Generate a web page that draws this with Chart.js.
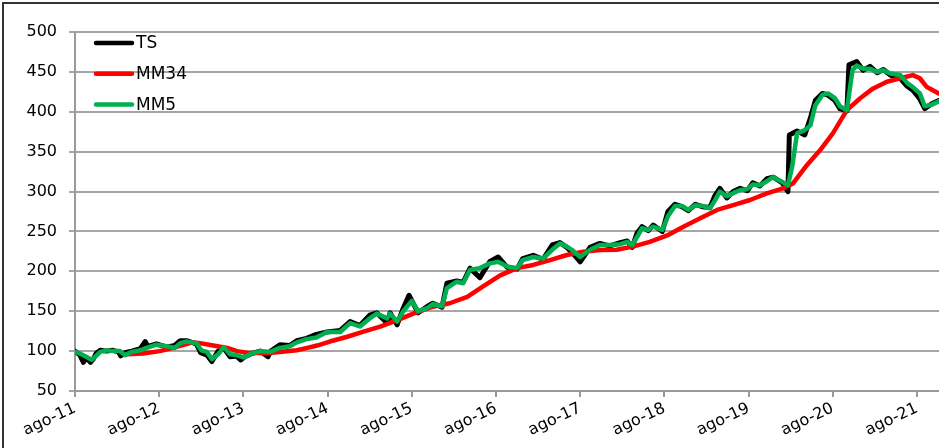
<!DOCTYPE html>
<html><head><meta charset="utf-8">
<script src="https://cdn.jsdelivr.net/npm/chart.js@4/dist/chart.umd.min.js"></script>
<style>html,body{margin:0;padding:0;background:#fff;overflow:hidden}</style>
</head><body>
<canvas id="c" width="939" height="448" style="display:block"></canvas>
<script>
// x values are months since August 2011
const yearLabels = ['ago-11','ago-12','ago-13','ago-14','ago-15','ago-16','ago-17','ago-18','ago-19','ago-20','ago-21'];
const yTicks = [50,100,150,200,250,300,350,400,450,500];
const seriesNames = ['TS','MM34','MM5'];

const tsMonths = [0,0.7,1.2,1.6,2.2,2.6,3.0,3.6,4.5,5.4,6.2,6.5,7.1,8.1,9.3,10.0,10.4,11.6,13.1,14.2,15,15.9,17.3,17.9,18.8,19.5,20.4,21.2,22.1,23,23.6,24.2,25.2,26.4,27.5,27.9,29.2,30.6,31.6,33,34.4,35.9,37.8,39.2,40.6,42,43,44.5,44.9,45.9,46.7,47.6,48.9,50.2,51,52.3,53,54.4,55.3,56.3,57.7,59.1,60.3,61.6,63,63.8,65.3,66.7,68,69.1,70.1,70.8,72,73.4,74.8,76.2,77.7,78.7,79.4,80.1,80.8,81.7,82.4,83.7,84.5,85.5,86.5,87.4,88.4,89.4,90.5,91.2,91.9,92.9,93.8,94.8,95.8,96.6,97.6,98.6,99.5,100.8,101.6,101.8,102.9,104,104.8,105.5,106.5,107.3,108.3,109,110,110.3,111.4,112.3,113.3,114.3,115.2,116.2,117.6,118.6,119.4,120.4,121.1,122.1,123.1];
const tsValues = [100,95,86,92,86,90,97,101,100,101,99,94,98,100,103,112,106,109,105,107,113,113,109,98,95,87,100,104,93,94,89,93,97,100,93,100,108,107,113,116,121,124,126,137,132,145,148,135,148,133,152,170,148,156,160,155,185,188,186,204,192,212,218,205,203,216,220,215,233,236,230,224,212,230,235,232,236,238,230,248,256,251,258,250,275,284,281,276,284,281,280,295,304,292,300,304,301,311,307,316,318,311,300,371,376,371,392,414,423,421,414,404,401,459,463,452,457,449,453,446,442,432,427,416,404,410,414];

const mm34Months = [7.4,9.7,12.1,14,16,16.8,17.8,19.7,21.7,23.1,24.9,27.4,29.2,31.6,33.1,34.5,36.3,38.8,41,43.5,46.3,48.2,51,53.4,55.9,58.1,60.6,63,65.3,67.7,70.1,72.4,74.8,77.2,79.5,81.9,84.4,86.7,89.1,91.5,93.8,96.2,98.6,100.9,102.3,104.3,106.2,108,110,111.9,113.7,115.7,117.6,119.4,120.4,121.4,123.1];
const mm34Values = [96,97,100,104,109,111,110,107,104,100,97.5,97.5,99,101,104,107,112,118,124,130.6,140,147,155.7,160,168,180.7,195,204,208,214,220.5,224.6,226.7,227,231,237,245,256,266.5,277,283,289.4,297.7,304,310,333,352,373,402,417,429,437.7,442,446,442,431,423];

const mm5Months = [0,0.7,1.6,2.4,3.6,4.5,5.4,6.4,7.1,8.1,9.3,10.2,11.6,13.1,14.2,15,15.9,17.3,18,18.8,19.5,20.4,21.2,22.1,23,24,25.2,26.4,27.8,29.2,30.6,31.6,33,34.4,35.9,37.8,39.2,40.6,42,43,44.5,44.9,45.9,46.7,48,48.9,50.2,51,52.3,53,54.4,55.3,56.3,57.7,59.1,60.3,61.6,63,63.8,65.3,66.7,68,69.1,70.1,70.8,72,73.4,74.8,76.2,77.7,78.7,79.4,80.1,80.8,81.7,82.4,83.7,84.5,85.5,86.5,87.4,88.4,89.4,90.5,91.2,91.9,92.9,93.8,94.8,95.8,96.6,97.6,98.6,99.5,100.8,101.6,102.2,102.9,104,104.8,105.5,106.5,107.3,108.3,109,110,110.8,111.4,112.3,113.3,114.3,115.2,116.2,117.6,118.6,119.4,120.4,121.1,122.1,123.1];
const mm5Values = [99,97,93,89,99,101,100,100,95,99,101,104,108,106,104,110,112,110,101,99,90,96,105,96,95,92,97,100,99,104,106,111,115,117,124,124,135,131,141,147,141,147,137,149,163,150,154,159,156,179,187,185,202,204,210,212,206,204,214,218,216,227,235,231,227,218,227,233,233,234,237,233,243,254,252,256,252,269,282,282,277,283,282,279,289,300,294,298,302,303,309,308,313,318,312,308,331,373,377,383,408,421,423,417,407,402,452,458,454,454,450,452,448,446,436,431,423,407,409,413];

const pts = (xs, ys) => xs.map((x, i) => ({x: x, y: ys[i]}));
const FONT = 'DejaVu Sans';

const legendPlugin = {
  id: 'innerLegend',
  afterDraw(chart) {
    const ctx = chart.ctx;
    ctx.save();
    chart.data.datasets.forEach((ds, i) => {
      const y = 43 + i * 30.8;
      ctx.strokeStyle = ds.borderColor;
      ctx.lineWidth = 4.5;
      ctx.lineCap = 'round';
      ctx.beginPath(); ctx.moveTo(96, y); ctx.lineTo(132, y); ctx.stroke();
      ctx.fillStyle = '#000';
      ctx.font = '17px "' + FONT + '"';
      ctx.textBaseline = 'middle';
      ctx.textAlign = 'left';
      ctx.fillText(ds.label, 136, y + 1);
    });
    // outer frame
    ctx.fillStyle = '#333';
    ctx.fillRect(2, 2, 2, 446);
    ctx.fillRect(2, 2, 937, 2);
    ctx.restore();
  },
  beforeDraw(chart) {
    const ctx = chart.ctx;
    ctx.save(); ctx.fillStyle = '#fff'; ctx.fillRect(0, 0, chart.width, chart.height); ctx.restore();
  }
};

new Chart(document.getElementById('c'), {
  type: 'line',
  data: {
    datasets: [
      {label: seriesNames[0], data: pts(tsMonths, tsValues), borderColor: '#000000', borderWidth: 5, order: 3},
      {label: seriesNames[1], data: pts(mm34Months, mm34Values), borderColor: '#ff0000', borderWidth: 4.5, order: 2},
      {label: seriesNames[2], data: pts(mm5Months, mm5Values), borderColor: '#00b050', borderWidth: 4.5, order: 1}
    ]
  },
  options: {
    responsive: false, animation: false, devicePixelRatio: 1,
    layout: {padding: {left: 0, right: 0, top: 32, bottom: 0}},
    plugins: {legend: {display: false}, tooltip: {enabled: false}},
    elements: {
      point: {radius: 0},
      line: {tension: 0, borderJoinStyle: 'round', borderCapStyle: 'round', fill: false}
    },
    scales: {
      x: {
        type: 'linear', min: 0, max: 123.13,
        afterBuildTicks: s => { s.ticks = yearLabels.map((l, i) => ({value: i * 12})); },
        afterFit: s => { s.height = 57; },
        ticks: {autoSkip: false, maxRotation: 25, minRotation: 25, padding: 2, color: '#000',
          font: {family: FONT, size: 16},
          callback: v => yearLabels[Math.round(v / 12)]},
        grid: {drawOnChartArea: false, drawTicks: true, tickLength: 6, color: '#9a9a9a', lineWidth: 2},
        border: {display: true, color: '#9a9a9a', width: 2}
      },
      y: {
        min: 50, max: 500,
        afterBuildTicks: s => { s.ticks = yTicks.map(v => ({value: v})); },
        afterFit: s => { s.width = 75; },
        ticks: {padding: 12, color: '#000', font: {family: FONT, size: 16}},
        grid: {color: '#a6a6a6', lineWidth: 2, tickLength: 6},
        border: {display: true, color: '#9a9a9a', width: 2}
      }
    }
  },
  plugins: [legendPlugin]
});
</script>
</body></html>
